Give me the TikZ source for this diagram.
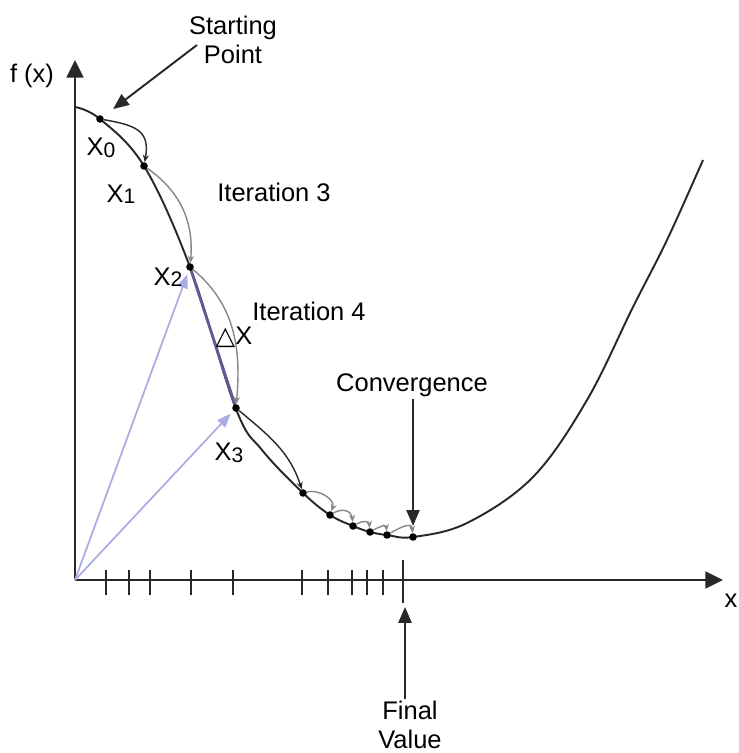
\documentclass[tikz,border=0pt]{standalone}
\usepackage{fontspec}
\setmainfont{Liberation Sans}
\newfontfamily\symfont{DejaVu Sans}
\usetikzlibrary{arrows.meta}
\definecolor{inkgray}{RGB}{40,40,40}
\definecolor{arcgray}{RGB}{135,135,135}
\definecolor{vecblue}{RGB}{172,172,228}
\definecolor{dxblue}{RGB}{92,92,150}
\tikzset{
  axis/.style={draw=inkgray, line width=1.4pt, -{Triangle[length=10pt,width=9.5pt]}},
  fcurve/.style={draw=inkgray, line width=1.1pt},
  dot/.style={circle, fill=black, inner sep=0pt, minimum size=4.3pt},
  tickmark/.style={draw=inkgray, line width=1pt},
  hop/.style={draw=#1, line width=0.8pt, -{Stealth[length=4pt,width=3.5pt]}},
  hop/.default=arcgray,
  callout/.style={draw=inkgray, line width=1.1pt, -{Triangle[length=9pt,width=7.5pt]}},
  vec/.style={draw=vecblue, line width=1pt, -{Triangle[length=8pt,width=6pt]}, shorten >=2pt},
  lbl/.style={font=\fontsize{14.5}{16.5}\selectfont, text=black, inner sep=1pt, align=center}
}
\newcommand{\xlab}[1]{X\raisebox{-0.1ex}{\fontsize{12}{12}\selectfont #1}}

\begin{document}
\begin{tikzpicture}[x=0.02cm, y=-0.02cm]
  \useasboundingbox (0,0) rectangle (739,753);

  % axes
  \coordinate (O) at (75,580);
  \coordinate (ytip) at (75,60);
  \coordinate (xtip) at (723,580);
  \draw[axis] (O) -- (ytip);
  \draw[axis] (O) -- (xtip);
  \node[lbl] (fxlbl) at (32,76) {f (x)};
  \node[lbl] (xlbl) at (731,601) {x};

  % ticks
  \foreach \t in {106,129,150,191,233,302,328,352,367,383}
    \draw[tickmark] (\t,570) -- (\t,595);
  \coordinate (ftick) at (403,580);
  \draw[tickmark] (403,560) -- (403,603);

  % the function
  \draw[fcurve] plot[smooth, tension=0.6] coordinates {
    (75,107) (100,119) (144,166) (190,267) (236,409) (262,450) (303,493)
    (330,515) (353,526) (370,532) (387,535) (413,537) (467,523) (533,477)
    (587,400) (633,307) (667,240) (703,160)};

  % iterates
  \node[dot] (x0) at (100,119) {};
  \node[dot] (x1) at (144,166) {};
  \node[dot] (x2) at (190,267) {};
  \node[dot] (x3) at (236,408) {};
  \node[dot] (p4) at (303,493) {};
  \node[dot] (p5) at (330,515) {};
  \node[dot] (p6) at (353,526) {};
  \node[dot] (p7) at (370,532) {};
  \node[dot] (p8) at (387,535) {};
  \node[dot] (p9) at (413,537) {};

  % position vectors
  \draw[vec] (O) -- (x2);
  \draw[vec] (O) -- (x3);
  \draw[draw=dxblue, line width=1.6pt] (x2) -- (x3);

  % steps
  \draw[hop=inkgray] (x0) to[out=-10, in=80, looseness=1.4] (x1);
  \draw[hop] (x1) to[out=-35, in=85] (x2);
  \draw[hop] (x2) to[out=-40, in=85] (x3);
  \draw[hop=inkgray] (x3) to[out=-40, in=108] (p4);
  \draw[hop] (p4) to[out=15, in=70] (p5);
  \foreach \a/\b in {p5/p6, p6/p7, p7/p8, p8/p9}
    \draw[hop] (\a) to[out=30, in=95, looseness=1.3] (\b);

  % labels
  \node[lbl] at (101,148) {\xlab{0}};
  \node[lbl] at (121,194) {\xlab{1}};
  \node[lbl] at (168,277) {\xlab{2}};
  \node[lbl] at (229,453) {\xlab{3}};
  \node[lbl] (dxlbl) at (234,337) {{\symfont △}X};
  \node[lbl] (iterthree) at (274,192) {Iteration 3};
  \node[lbl] (iterfour) at (309,311) {Iteration 4};

  % callouts
  \node[lbl] (startlbl) at (233,40) {Starting\\Point};
  \coordinate (starttail) at (197,45);
  \draw[callout, shorten >=7pt] (starttail) -- (x0);
  \node[lbl] (convlbl) at (412,385) {Convergence};
  \draw[callout, shorten >=4pt] (convlbl.south -| p9) -- (p9);
  \node[lbl] (finallbl) at (410,725) {Final\\Value};
  \coordinate (ftip) at (405,607);
  \draw[callout] (finallbl.north -| ftip) -- (ftip);
\end{tikzpicture}
\end{document}
